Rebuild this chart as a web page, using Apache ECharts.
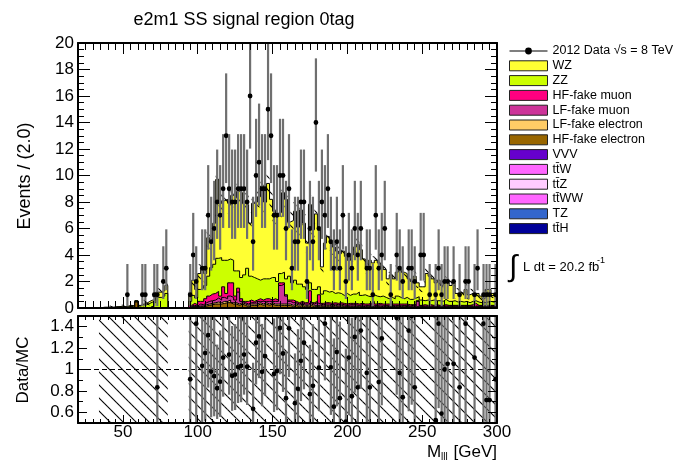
<!DOCTYPE html>
<html>
<head>
<meta charset="utf-8">
<script src="https://cdn.jsdelivr.net/npm/echarts@6/dist/echarts.min.js"></script>
<style>
html, body { margin: 0; padding: 0; background: #fff; }
#chart { width: 677px; height: 464px; }
</style>
</head>
<body>
<div id="chart"></div>
<script>
// binning: 140 bins of 2 GeV from 20 to 300
var xMin = 20, xMax = 300, binWidth = 2;

// stacked backgrounds, one value per bin
var hfEl = [
  0,0,0,0,0,0,0,0,0,0,
  0,0,0,0.05,0,0,0,0.1,0,0.45,
  0,0,0,0,0.1,0,0,0,0,0,
  0,0,0,0,0,0,0,0.05,0.1,0.05,
  0.1,0.1,0.15,0.2,0.25,0.3,0.3,0.3,0.35,0.4,
  0.4,0.3,0.3,0.2,0.3,0.2,0.1,0.2,0.2,0.2,
  0.3,0.2,0.3,0.2,0.3,0.2,0.2,0.2,0.2,0.2,
  0.2,0.1,0.2,0.1,0.2,0.1,0.1,0.2,0.1,0.1,
  0.1,0.1,0.1,0.1,0.1,0.1,0.1,0.1,0.1,0.1,
  0.1,0.1,0.1,0.1,0.1,0.05,0.1,0.1,0.05,0.1,
  0.1,0.05,0.1,0.05,0.1,0.05,0.1,0.05,0.1,0.05,
  0.05,0.05,0.05,0.05,0.05,0.05,0.05,0.05,0.05,0.05,
  0.05,0.05,0.05,0.05,0.05,0.05,0.05,0.05,0.05,0.05,
  0.05,0.05,0.05,0.05,0.05,0.05,0.05,0.05,0.05,0.05
];
var lfEl = [
  0,0,0,0,0,0,0,0,0,0,
  0,0,0,0,0,0,0,0,0,0,
  0,0.05,0,0,0,0,0,0,0,0,
  0,0,0,0,0,0,0,0.05,0,0.05,
  0.05,0.05,0.1,0.1,0.1,0.1,0.15,0.1,0.15,0.1,
  0.2,0.1,0.1,0.1,0.1,0.1,0.1,0.1,0.1,0.1,
  0.1,0.1,0.1,0.1,0.1,0.1,0.1,0.1,0.1,0.1,
  0.1,0.1,0.1,0.1,0.1,0.1,0.1,0.1,0.1,0.1,
  0.1,0.05,0.1,0.1,0.05,0.1,0.05,0.1,0.05,0.05,
  0.05,0.05,0.05,0.05,0.05,0.05,0.05,0.05,0.05,0.05,
  0.05,0.05,0.05,0.05,0.05,0.05,0.05,0.05,0.05,0.05,
  0.05,0.05,0.05,0.05,0.05,0.05,0.05,0.05,0.05,0.05,
  0.05,0.05,0.05,0.05,0.05,0.05,0.05,0.05,0.05,0.05,
  0.05,0.05,0.05,0.05,0.05,0.05,0.05,0.05,0.05,0.05
];
var lfMu = [
  0,0,0,0,0,0,0,0,0,0,
  0,0,0,0,0,0,0,0,0,0,
  0,0,0,0,0,0,0,0,0,0,
  0,0,0,0,0,0,0,0.05,0.1,0.05,
  0.15,0.1,0.15,0.2,0.2,0.2,0.3,0.2,0.3,0.2,
  0.3,0.4,0.2,0.9,0.1,0.1,0.1,0.1,0.1,0.2,
  0.1,0.2,0.1,0.2,0.1,0.2,0.2,1.4,1.5,0.6,
  0.2,0.2,0.1,0.1,0.1,0.1,0.1,0.1,0.1,0.2,
  0.1,0.1,0.1,0.1,0.1,0.1,0.1,0.1,0.1,0.05,
  0.1,0.1,0.1,0.05,0.1,0.1,0.05,0.1,0.1,0.05,
  0.1,0.1,0.05,0.1,0.05,0.1,0.05,0.1,0.05,0.1,
  0.05,0.1,0.05,0.4,0.05,0.05,0.05,0.05,0.05,0.05,
  0.05,0.05,0.05,0.05,0.05,0.05,0.05,0.05,0.05,0.05,
  0.05,0.05,0.05,0.05,0.05,0.05,0.05,0.05,0.05,0.05
];
var hfMu = [
  0,0,0,0,0,0,0,0,0,0,
  0,0,0,0,0,0,0,0,0,0,
  0,0,0,0,0,0,0,0,0,0,
  0,0,0,0,0,0,0,0.05,0.15,0.1,
  0.2,0.25,0.3,0.4,0.5,0.5,0.5,0.3,0.8,0.4,
  1.0,1.1,0.3,0.3,0.2,0.1,0.2,0.2,0.1,0.1,
  0.2,0.1,0.2,0.2,0.1,0.2,0.1,0.2,0.1,0.1,
  0.1,0.2,0.1,0.1,0.1,0.1,0.1,0.9,0.1,0.1,
  0.7,0.1,0.1,0.1,0.1,0.1,0.1,0.1,0.1,0.1,
  0.1,0.1,0.1,0.1,0.1,0.1,0.1,0.1,0.3,0.1,
  0.1,0.1,0.1,0.1,0.1,0.1,0.1,0.1,0.1,0.1,
  0.1,0.05,0.1,0.05,0.05,0.1,0.05,0.1,0.05,0.1,
  0.05,0.05,0.1,0.05,0.05,0.05,0.05,0.05,0.05,0.05,
  0.05,0.1,0.2,0.05,0.05,0.05,0.05,0.05,0.05,0.05
];
var zz = [
  0,0,0,0,0,0,0,0.03,0.05,0.05,
  0.05,0.05,0.07,0.05,0.1,0.07,0.1,0.1,0.1,0.1,
  0.15,0.2,0.25,0.35,0.35,0.4,0.8,0.8,0.9,1.1,
  0,0,0,0,0,0,0,0.3,0.6,0.5,
  0.9,1.0,1.0,1.5,2.0,2.2,2.5,2.9,2.0,2.5,
  1.8,1.7,1.9,1.3,1.6,2.0,2.5,1.8,1.8,1.6,
  1.4,1.6,1.5,1.5,1.7,1.6,1.4,0.7,0.8,1.2,
  1.8,1.3,1.6,1.4,1.3,1.2,1.0,0.6,1.0,0.9,
  0.6,0.7,0.9,0.8,0.9,0.7,0.8,0.7,0.6,0.8,
  0.6,0.7,0.7,0.9,0.6,0.7,0.6,0.5,0.5,0.6,
  0.5,0.6,0.5,0.4,0.5,0.4,0.6,0.5,0.4,0.5,
  0.4,0.4,0.5,0.3,0.4,0.3,0.4,0.3,0.4,0.3,
  0.35,0.3,0.4,0.3,0.3,0.35,0.25,0.3,0.25,0.3,
  0.2,0.25,0.2,0.25,0.2,0.2,0.25,0.3,0.25,0.2
];
var wz = [
  0,0,0,0,0,0,0,0,0,0,
  0.03,0,0.03,0,0.05,0.03,0.05,0,0.05,0,
  0.05,0.05,0.1,0.15,0.15,0.2,0.4,0.4,0.4,0.6,
  0,0,0,0,0,0,0,0.6,1.15,0.65,
  1.2,1.4,0.9,2.9,2.05,3.1,5.95,4.1,4.5,4.6,
  4.2,4.9,5.6,6.0,6.4,5.4,4.8,4.0,5.6,5.8,
  6.3,7.0,5.8,7.2,5.9,5.0,5.1,4.6,6.0,6.0,
  4.1,4.7,5.2,4.3,5.6,4.8,3.5,5.9,4.5,5.7,
  4.3,2.05,3.6,4.2,3.65,3.5,3.15,3.0,3.35,2.8,
  2.65,2.95,3.55,3.6,3.45,2.7,2.2,2.75,2.4,2.7,
  2.55,2.2,2.1,1.5,1.7,1.5,1.8,2.3,2.0,1.8,
  1.55,1.35,1.65,1.05,1.0,1.05,2.0,1.85,1.6,1.35,
  1.55,1.2,1.35,1.4,1.2,1.35,0.65,0.7,0.65,0.9,
  0.6,0.6,0.35,0.65,0.5,0.3,0.95,0.9,0.65,0.7
];

// observed events per bin
var dataCounts = [
  0,0,0,0,0,0,0,0,0,0,
  0,0,0,0,0,0,1,0,0,0,
  0,1,1,0,0,1,1,0,2,3,
  0,0,0,0,0,0,0,1,4,2,
  0,3,3,7,5,6,8,7,9,13,
  9,8,8,9,9,9,8,16,5,10,
  11,9,9,15,13,7,7,10,10,6,
  9,3,5,5,8,8,2,6,5,14,
  6,8,7,9,5,3,5,3,7,2,
  4,3,6,4,6,0,3,3,1,7,
  3,4,6,0,1,0,4,3,2,0,
  3,3,2,0,4,4,0,1,0,1,
  3,1,2,2,0,2,0,1,0,2,
  2,0,1,3,0,1,1,1,0,1
];

// MC uncertainty half-width, one value per group of 10 bins
var mcErrGroup = [0.05,0.1,0.3,0.5,0.7,0.8,0.8,0.7,0.6,0.5,0.5,0.4,0.4,0.35];
var ratioBandHalf = 0.6;

// tick labels
var xMajor = [50,100,150,200,250,300];
var yMainLabels = [0,2,4,6,8,10,12,14,16,18,20];
var yRatioLabels = [0.6,0.8,1,1.2,1.4];

var FONT = '"Liberation Sans", Arial, Helvetica, sans-serif';
var dataName = '2012 Data \u221As = 8 TeV';

function range(a, b, step) {
  var r = [];
  for (var v = a; v <= b + 1e-9; v += step) r.push(+v.toFixed(4));
  return r;
}
var xMinor = range(xMin, xMax, 5);
var yMainMinor = range(0, 20, 0.5);
var yRatioMinor = range(0.5, 1.5, 0.1);

// diagonal hatch pattern
function hatch(size) {
  var c = document.createElement('canvas');
  c.width = c.height = size;
  var g = c.getContext('2d');
  g.strokeStyle = '#000';
  g.lineWidth = 1.1;
  g.beginPath();
  g.moveTo(-1, -1); g.lineTo(size + 1, size + 1);
  g.moveTo(-1, size - 1); g.lineTo(1, size + 1);
  g.moveTo(size - 1, -1); g.lineTo(size + 1, 1);
  g.stroke();
  return { image: c, repeat: 'repeat' };
}
var hatchFill = hatch(13);

var layers = [
  { name: 'HF-fake electron', vals: hfEl, color: '#996600' },
  { name: 'LF-fake electron', vals: lfEl, color: '#ffcc66' },
  { name: 'LF-fake muon', vals: lfMu, color: '#cc3399' },
  { name: 'HF-fake muon', vals: hfMu, color: '#ff0080' },
  { name: 'ZZ', vals: zz, color: '#ccff00' },
  { name: 'WZ', vals: wz, color: '#ffff33' }
];
var minor = [
  { name: 'VVV', color: '#6600cc' },
  { name: 'tt\u0304W', color: '#ff66ff' },
  { name: 'tt\u0304Z', color: '#ffccff' },
  { name: 'tt\u0304WW', color: '#ff66ff' },
  { name: 'TZ', color: '#3366cc' },
  { name: 'tt\u0304H', color: '#000099' }
];

var nBins = wz.length;
var running = [];
for (var i = 0; i < nBins; i++) running.push(0);
layers.forEach(function (l) {
  l.cum = l.vals.map(function (v, i) { running[i] += v; return running[i]; });
});
var total = running.slice();

var series = [];
layers.forEach(function (l, k) {
  var pts = l.cum.map(function (v, i) { return [xMin + i * binWidth, v]; });
  pts.push([xMax, l.cum[nBins - 1]]);
  series.push({
    name: l.name, type: 'line', step: 'end', data: pts,
    xAxisIndex: 0, yAxisIndex: 0, z: 10 - k,
    symbol: 'none', silent: true,
    lineStyle: { color: '#000', width: 1 },
    areaStyle: { color: l.color, opacity: 1 }
  });
});
minor.forEach(function (m) {
  series.push({ name: m.name, type: 'line', data: [], xAxisIndex: 0, yAxisIndex: 0,
    itemStyle: { color: m.color } });
});

// hatched MC band, data points and ratio
var band = [], ratioBand = [], points = [], ratioPts = [];
for (var b = 0; b < nBins; b++) {
  var x0 = xMin + b * binWidth, x1 = x0 + binWidth, xc = x0 + binWidth / 2;
  var t = total[b];
  if (t > 0) {
    var e = mcErrGroup[Math.floor(b / 10)];
    band.push([x0, x1, Math.max(0, t - e), t + e]);
    ratioBand.push([x0, x1, 1 - ratioBandHalf, 1 + ratioBandHalf]);
  }
  var n = dataCounts[b];
  if (n > 0) {
    var lo = n - Math.sqrt(n - 0.25), hi = n + Math.sqrt(n + 0.75) + 1;
    points.push([xc, n, lo, hi]);
    if (t > 0) {
      var r = n / t;
      if (r >= 0.5 && r <= 1.5) ratioPts.push([xc, r, lo / t, hi / t]);
    }
  }
}

function bandItem(params, api) {
  var a = api.coord([api.value(0), api.value(3)]);
  var c = api.coord([api.value(1), api.value(2)]);
  return { type: 'rect', shape: { x: a[0], y: a[1], width: c[0] - a[0], height: c[1] - a[1] },
    style: { fill: hatchFill } };
}
function pointItem(params, api) {
  var p = api.coord([api.value(0), api.value(1)]);
  var pl = api.coord([api.value(0), api.value(2)]);
  var ph = api.coord([api.value(0), api.value(3)]);
  return { type: 'group', children: [
    { type: 'line', shape: { x1: p[0], y1: pl[1], x2: p[0], y2: ph[1] },
      style: { stroke: '#6f6f6f', lineWidth: 2.2 } },
    { type: 'circle', shape: { cx: p[0], cy: p[1], r: 2.4 }, style: { fill: '#000' } }
  ] };
}

series.push({ name: 'mcband', type: 'custom', xAxisIndex: 0, yAxisIndex: 0, z: 12, clip: true,
  renderItem: bandItem, encode: { x: [0, 1], y: [2, 3] }, data: band, silent: true });
series.push({ name: dataName, type: 'custom', xAxisIndex: 0, yAxisIndex: 0, z: 14, clip: true,
  renderItem: pointItem, encode: { x: 0, y: [1, 2, 3] }, data: points, silent: true,
  itemStyle: { color: '#000' } });
series.push({ name: 'ratioband', type: 'custom', xAxisIndex: 4, yAxisIndex: 4, z: 10, clip: true,
  renderItem: bandItem, encode: { x: [0, 1], y: [2, 3] }, data: ratioBand, silent: true });
series.push({ name: 'unity', type: 'line', xAxisIndex: 4, yAxisIndex: 4, z: 11, symbol: 'none',
  data: [[xMin, 1], [xMax, 1]], lineStyle: { color: '#000', width: 1, type: [5, 3] }, silent: true });
series.push({ name: 'ratio', type: 'custom', xAxisIndex: 4, yAxisIndex: 4, z: 14, clip: true,
  renderItem: pointItem, encode: { x: 0, y: [1, 2, 3] }, data: ratioPts, silent: true });

function ax(grid, pos, min, max, ticks, len, line, labels, margin) {
  var a = {
    type: 'value', gridIndex: grid, position: pos, min: min, max: max, z: 20,
    axisLine: { show: line, onZero: false, lineStyle: { color: '#000', width: 2 } },
    axisTick: { show: true, inside: true, length: len, customValues: ticks,
      lineStyle: { color: '#000', width: 1 } },
    axisLabel: { show: false },
    splitLine: { show: false }
  };
  if (labels) {
    a.axisLabel = { show: true, customValues: labels, margin: margin,
      fontFamily: FONT, fontSize: 17, color: '#000' };
  }
  return a;
}

var legendData = [{ name: dataName, icon: 'path://M0,4.4H38V5.6H0Z M19,1.6A3.4,3.4,0,1,1,19,8.4A3.4,3.4,0,1,1,19,1.6Z',
  itemStyle: { color: '#000', borderWidth: 0 } }];
layers.slice().reverse().concat(minor).forEach(function (l) {
  legendData.push({ name: l.name, icon: 'rect',
    itemStyle: { color: l.color, borderColor: '#222', borderWidth: 1 } });
});

function txt(x, y, s, size, extra) {
  var o = { type: 'text', x: x, y: y, silent: true,
    style: { text: s, font: size + 'px ' + FONT, fill: '#000',
      textAlign: 'left', textVerticalAlign: 'middle' } };
  for (var k in (extra || {})) {
    if (k === 'rotation') o.rotation = extra[k]; else o.style[k] = extra[k];
  }
  return o;
}

var chart = echarts.init(document.getElementById('chart'));
chart.setOption({
  animation: false,
  backgroundColor: '#fff',
  grid: [
    { left: 78, top: 43, width: 419, height: 265, show: false },
    { left: 78, top: 316, width: 419, height: 107, show: false }
  ],
  xAxis: [
    ax(0, 'bottom', xMin, xMax, xMajor, 11, true),
    ax(0, 'bottom', xMin, xMax, xMinor, 7, false),
    ax(0, 'top', xMin, xMax, xMajor, 11, true),
    ax(0, 'top', xMin, xMax, xMinor, 7, false),
    ax(1, 'bottom', xMin, xMax, xMajor, 8, true, xMajor, 1),
    ax(1, 'bottom', xMin, xMax, xMinor, 4, false),
    ax(1, 'top', xMin, xMax, xMajor, 8, true),
    ax(1, 'top', xMin, xMax, xMinor, 4, false)
  ],
  yAxis: [
    ax(0, 'left', 0, 20, yMainLabels, 12, true, yMainLabels, 4),
    ax(0, 'left', 0, 20, yMainMinor, 6, false),
    ax(0, 'right', 0, 20, yMainLabels, 12, true),
    ax(0, 'right', 0, 20, yMainMinor, 6, false),
    ax(1, 'left', 0.5, 1.5, yRatioLabels, 9, true, yRatioLabels, 4),
    ax(1, 'left', 0.5, 1.5, yRatioMinor, 5, false),
    ax(1, 'right', 0.5, 1.5, yRatioLabels, 9, true),
    ax(1, 'right', 0.5, 1.5, yRatioMinor, 5, false)
  ],
  legend: {
    orient: 'vertical', left: 504, top: 39.5,
    itemWidth: 38, itemHeight: 10, itemGap: 1.8,
    selectedMode: false,
    textStyle: { fontFamily: FONT, fontSize: 12.5, lineHeight: 13, color: '#000' },
    data: legendData
  },
  graphic: [
    txt(244, 20, 'e2m1 SS signal region 0tag', 18, { textAlign: 'center' }),
    txt(25, 176, 'Events / (2.0)', 18, { textAlign: 'center', rotation: Math.PI / 2 }),
    txt(23, 370, 'Data/MC', 17, { textAlign: 'center', rotation: Math.PI / 2 }),
    txt(427, 452, 'M', 17),
    txt(441, 457, 'lll', 10),
    txt(497, 452, '[GeV]', 17, { textAlign: 'right' }),
    txt(513, 268, '\u222B', 30, { textAlign: 'center' }),
    txt(523, 267, 'L dt = 20.2 fb', 13),
    txt(597, 261, '-1', 9)
  ],
  series: series
});
</script>
</body>
</html>
